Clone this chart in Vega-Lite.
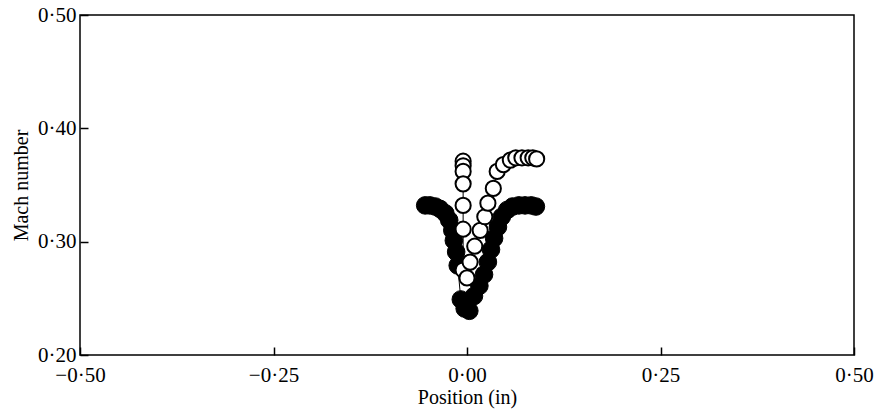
{
  "$schema": "https://vega.github.io/schema/vega-lite/v6.json",
  "width": 774,
  "height": 340,
  "autosize": {"type": "none"},
  "padding": {"left": 80, "top": 15, "right": 25, "bottom": 60},
  "background": "white",
  "config": {
    "view": {"stroke": "black", "strokeWidth": 1.5},
    "font": "Liberation Serif",
    "axis": {
      "grid": false,
      "domain": false,
      "tickColor": "black",
      "tickWidth": 1.5,
      "tickSize": -8,
      "labelFlush": false,
      "labelFont": "Liberation Serif",
      "labelFontSize": 21,
      "labelColor": "black",
      "titleFont": "Liberation Serif",
      "titleFontSize": 20,
      "titleFontWeight": "normal",
      "titleColor": "black"
    }
  },
  "data": {
    "values": [
      {"series": "filled", "i": 1, "x": -0.054, "y": 0.332},
      {"series": "filled", "i": 2, "x": -0.048, "y": 0.332},
      {"series": "filled", "i": 3, "x": -0.041, "y": 0.331},
      {"series": "filled", "i": 4, "x": -0.035, "y": 0.329},
      {"series": "filled", "i": 5, "x": -0.028, "y": 0.325},
      {"series": "filled", "i": 6, "x": -0.023, "y": 0.319},
      {"series": "filled", "i": 7, "x": -0.019, "y": 0.310},
      {"series": "filled", "i": 8, "x": -0.017, "y": 0.301},
      {"series": "filled", "i": 9, "x": -0.014, "y": 0.291},
      {"series": "filled", "i": 10, "x": -0.012, "y": 0.279},
      {"series": "filled", "i": 11, "x": -0.008, "y": 0.249},
      {"series": "filled", "i": 12, "x": -0.003, "y": 0.241},
      {"series": "filled", "i": 13, "x": 0.003, "y": 0.239},
      {"series": "filled", "i": 14, "x": 0.009, "y": 0.252},
      {"series": "filled", "i": 15, "x": 0.016, "y": 0.261},
      {"series": "filled", "i": 16, "x": 0.022, "y": 0.271},
      {"series": "filled", "i": 17, "x": 0.027, "y": 0.282},
      {"series": "filled", "i": 18, "x": 0.031, "y": 0.293},
      {"series": "filled", "i": 19, "x": 0.035, "y": 0.303},
      {"series": "filled", "i": 20, "x": 0.040, "y": 0.313},
      {"series": "filled", "i": 21, "x": 0.045, "y": 0.322},
      {"series": "filled", "i": 22, "x": 0.052, "y": 0.328},
      {"series": "filled", "i": 23, "x": 0.059, "y": 0.331},
      {"series": "filled", "i": 24, "x": 0.067, "y": 0.332},
      {"series": "filled", "i": 25, "x": 0.075, "y": 0.332},
      {"series": "filled", "i": 26, "x": 0.083, "y": 0.332},
      {"series": "filled", "i": 27, "x": 0.089, "y": 0.331},
      {"series": "open", "i": 1, "x": -0.005, "y": 0.371},
      {"series": "open", "i": 2, "x": -0.005, "y": 0.367},
      {"series": "open", "i": 3, "x": -0.005, "y": 0.362},
      {"series": "open", "i": 4, "x": -0.005, "y": 0.351},
      {"series": "open", "i": 5, "x": -0.005, "y": 0.332},
      {"series": "open", "i": 6, "x": -0.005, "y": 0.311},
      {"series": "open", "i": 7, "x": -0.005, "y": 0.275},
      {"series": "open", "i": 8, "x": 0.000, "y": 0.268},
      {"series": "open", "i": 9, "x": 0.004, "y": 0.282},
      {"series": "open", "i": 10, "x": 0.010, "y": 0.296},
      {"series": "open", "i": 11, "x": 0.017, "y": 0.310},
      {"series": "open", "i": 12, "x": 0.023, "y": 0.322},
      {"series": "open", "i": 13, "x": 0.027, "y": 0.334},
      {"series": "open", "i": 14, "x": 0.034, "y": 0.347},
      {"series": "open", "i": 15, "x": 0.039, "y": 0.362},
      {"series": "open", "i": 16, "x": 0.047, "y": 0.368},
      {"series": "open", "i": 17, "x": 0.056, "y": 0.372},
      {"series": "open", "i": 18, "x": 0.063, "y": 0.374},
      {"series": "open", "i": 19, "x": 0.071, "y": 0.374},
      {"series": "open", "i": 20, "x": 0.079, "y": 0.374},
      {"series": "open", "i": 21, "x": 0.085, "y": 0.374},
      {"series": "open", "i": 22, "x": 0.090, "y": 0.373}
    ]
  },
  "encoding": {
    "x": {
      "field": "x", "type": "quantitative",
      "scale": {"domain": [-0.5, 0.5], "nice": false, "zero": false},
      "axis": {
        "title": "Position (in)",
        "values": [-0.5, -0.25, 0, 0.25, 0.5],
        "labelExpr": "replace(format(datum.value, '.2f'), '.', '·')",
        "labelPadding": 17,
        "titlePadding": 2
      }
    },
    "y": {
      "field": "y", "type": "quantitative",
      "scale": {"domain": [0.2, 0.5], "nice": false, "zero": false},
      "axis": {
        "title": "Mach number",
        "values": [0.2, 0.3, 0.4, 0.5],
        "labelExpr": "replace(format(datum.value, '.2f'), '.', '·')",
        "labelPadding": 12,
        "titlePadding": 6
      }
    }
  },
  "layer": [
    {
      "transform": [{"filter": "datum.series === 'filled'"}],
      "mark": {"type": "line", "color": "black", "strokeWidth": 1},
      "encoding": {"order": {"field": "i", "type": "quantitative"}}
    },
    {
      "transform": [{"filter": "datum.series === 'filled'"}],
      "mark": {"type": "point", "shape": "circle", "filled": true, "fill": "black", "stroke": "black", "strokeWidth": 1, "size": 310, "opacity": 1}
    },
    {
      "transform": [{"filter": "datum.series === 'open'"}],
      "mark": {"type": "line", "color": "black", "strokeWidth": 1},
      "encoding": {"order": {"field": "i", "type": "quantitative"}}
    },
    {
      "transform": [{"filter": "datum.series === 'open'"}],
      "mark": {"type": "point", "shape": "circle", "filled": false, "fill": "white", "fillOpacity": 1, "stroke": "black", "strokeWidth": 2, "size": 230, "opacity": 1}
    }
  ]
}
